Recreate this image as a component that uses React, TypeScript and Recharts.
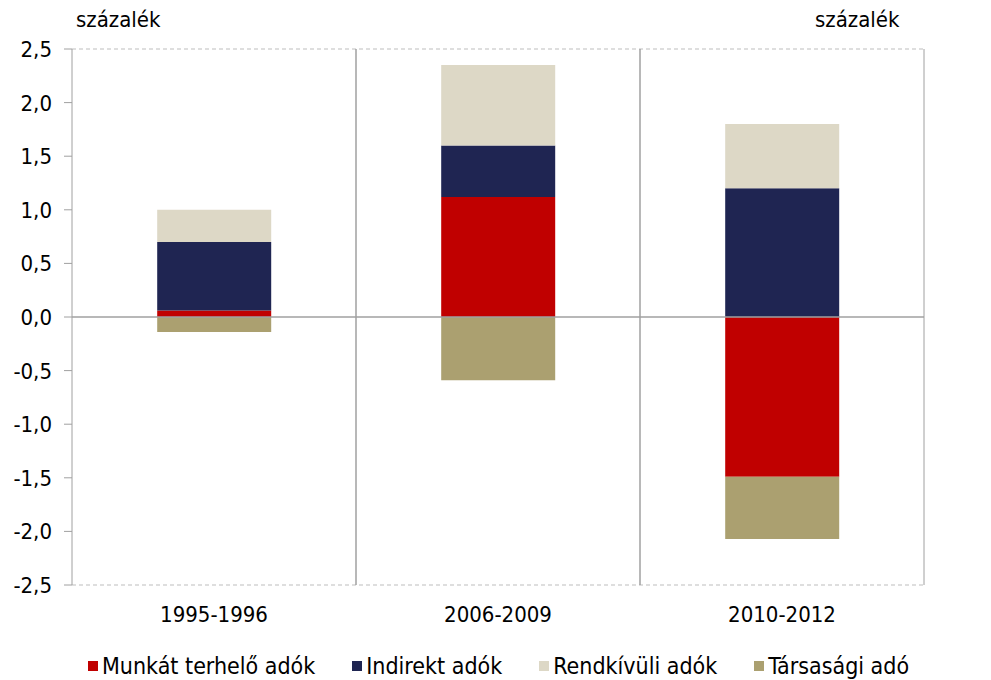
import { ComposedChart, Bar, XAxis, YAxis, CartesianGrid, ReferenceLine } from 'recharts'

const periods = ['1995-1996', '2006-2009', '2010-2012']
const munkat = [0.06, 1.12, -1.49]
const indirekt = [0.64, 0.48, 1.2]
const rendkivuli = [0.3, 0.75, 0.6]
const tarsasagi = [-0.14, -0.59, -0.58]
const yTicks = [-2.5, -2, -1.5, -1, -0.5, 0, 0.5, 1, 1.5, 2, 2.5]

const SERIES = [
  { key: 'munkat', name: 'Munkát terhelő adók', color: '#c00000' },
  { key: 'indirekt', name: 'Indirekt adók', color: '#1f2552' },
  { key: 'rendkivuli', name: 'Rendkívüli adók', color: '#ddd8c6' },
  { key: 'tarsasagi', name: 'Társasági adó', color: '#aba070' },
]

const data = periods.map((p, i) => ({
  period: p,
  munkat: munkat[i],
  indirekt: indirekt[i],
  rendkivuli: rendkivuli[i],
  tarsasagi: tarsasagi[i],
}))

const FONT = '"DejaVu Sans Condensed", "DejaVu Sans", sans-serif'
const fmt = (v: number) => v.toFixed(1).replace('.', ',')

function CategoryTick({ x, y, payload }: any) {
  return (
    <text x={x} y={y + 29} textAnchor="middle" fontSize={22} fill="#000" fontFamily={FONT}>
      {payload.value}
    </text>
  )
}

function ValueTick({ x, y, payload, textAnchor }: any) {
  return (
    <text x={x} y={y} dy={8} textAnchor={textAnchor} fontSize={22} fill="#000" fontFamily={FONT}>
      {fmt(payload.value)}
    </text>
  )
}

export default function App() {
  return (
    <div style={{ position: 'absolute', left: 0, top: 0, width: 991, height: 680, background: '#fff', fontFamily: FONT }}>
      <div style={{ position: 'absolute', left: 76, top: 7, fontSize: 22 }}>százalék</div>
      <div style={{ position: 'absolute', left: 815, top: 7, fontSize: 22 }}>százalék</div>
      <ComposedChart
        width={991}
        height={640}
        data={data}
        stackOffset="sign"
        barCategoryGap="30%"
        margin={{ top: 49, right: 0, bottom: 0, left: 0 }}
      >
        <CartesianGrid vertical={false} stroke="#bdbdbd" strokeDasharray="4 3" />
        <XAxis dataKey="period" axisLine={false} tickLine={false} height={55} tick={<CategoryTick />} />
        <YAxis
          yAxisId="left"
          orientation="left"
          width={72}
          domain={[-2.5, 2.5]}
          ticks={yTicks}
          stroke="#a0a0a0"
          tickSize={8}
          tick={<ValueTick />}
          tickMargin={12}
        />
        <YAxis
          yAxisId="right"
          orientation="right"
          width={67}
          domain={[-2.5, 2.5]}
          ticks={yTicks}
          stroke="#a0a0a0"
          tickSize={8}
          tick={<ValueTick />}
          tickMargin={15}
        />
        <ReferenceLine yAxisId="left" y={0} stroke="#a0a0a0" strokeWidth={1.5} />
        <ReferenceLine yAxisId="left" x={periods[1]} position="start" stroke="#a0a0a0" strokeWidth={1.5} />
        <ReferenceLine yAxisId="left" x={periods[2]} position="start" stroke="#a0a0a0" strokeWidth={1.5} />
        {SERIES.map((s) => (
          <Bar
            key={s.key}
            dataKey={s.key}
            name={s.name}
            stackId="a"
            yAxisId="left"
            fill={s.color}
            isAnimationActive={false}
          />
        ))}
      </ComposedChart>
      <div style={{ position: 'absolute', left: 88, top: 653, display: 'flex', fontSize: 23 }}>
        {SERIES.map((s, i) => (
          <div key={s.key} style={{ display: 'flex', alignItems: 'center', marginRight: i === 3 ? 0 : 37 }}>
            <span style={{ width: 10, height: 10, background: s.color, marginRight: 4, display: 'inline-block' }} />
            <span>{s.name}</span>
          </div>
        ))}
      </div>
    </div>
  )
}
